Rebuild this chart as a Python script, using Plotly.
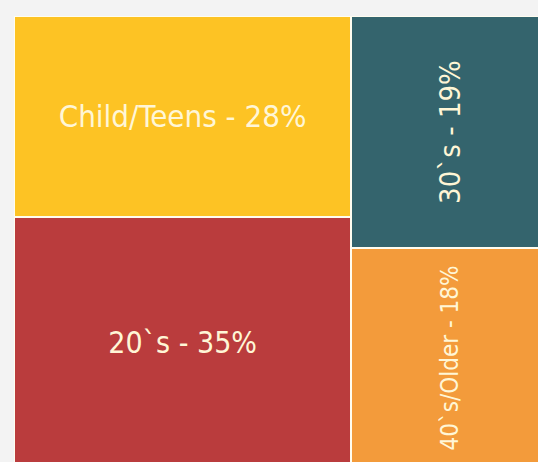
import plotly.graph_objects as go

# age groups, split into two columns like the original treemap
labels = ["Child/Teens - 28%", "20`s - 35%", "30`s - 19%", "40`s/Older - 18%"]
values = [28, 35, 19, 18]
column = [0, 0, 1, 1]
colors = ["#FDC324", "#BA3C3D", "#34646D", "#F39B3B"]
angles = [0, 0, -90, -90]
font_sizes = [31, 30, 29, 24]

col_total = [values[0] + values[1], values[2] + values[3]]
col_center = [col_total[0] / 2, col_total[0] + col_total[1] / 2]

fig = go.Figure()

for i in range(len(values)):
    c = column[i]
    fig.add_trace(
        go.Bar(x=[col_center[c]], y=[values[i] / col_total[c] * 100],
               width=[col_total[c]],
               text=[labels[i]],
               textposition="inside",
               insidetextanchor="middle",
               textangle=angles[i],
               constraintext="none",
               textfont=dict(color="#FFF6D6", size=font_sizes[i],
                             family="DejaVu Sans Condensed"),
               marker=dict(color=colors[i], line=dict(color="#FFFDF0", width=2)),
               hoverinfo="skip",
               showlegend=False)
    )

fig.update_layout(
    barmode="stack",
    width=538, height=462,
    margin=dict(l=14, r=0, t=16, b=0),
    paper_bgcolor="#F3F3F3",
    plot_bgcolor="#F3F3F3",
    xaxis=dict(range=[0, 97.9], visible=False, fixedrange=True),
    yaxis=dict(range=[98.7, 0], visible=False, fixedrange=True),
)

fig.write_html("out.html", config={"displayModeBar": False},
               post_script="document.body.style.margin='0';")
